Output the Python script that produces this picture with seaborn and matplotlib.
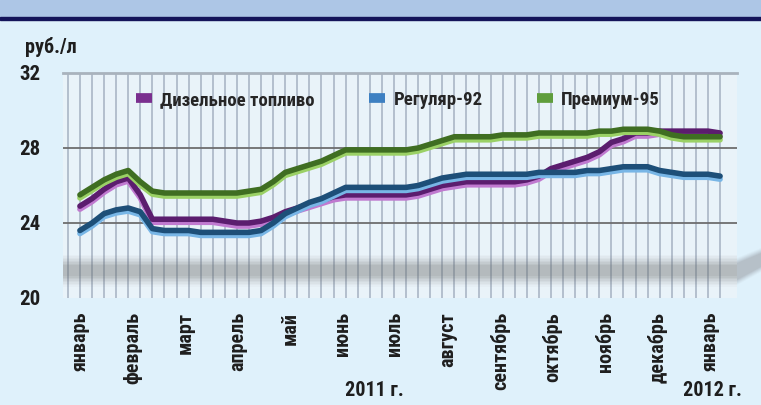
import matplotlib
matplotlib.use("Agg")
import matplotlib.pyplot as plt
import matplotlib.patheffects as pe
from matplotlib import font_manager
import numpy as np
import pandas as pd
import seaborn as sns

# weekly retail prices, Jan 2011 - Jan 2012 (rub/l)
diesel = [24.9, 25.3, 25.8, 26.2, 26.4, 25.5, 24.2, 24.2, 24.2, 24.2,
          24.2, 24.2, 24.1, 24.0, 24.0, 24.1, 24.3, 24.6, 24.8, 25.0,
          25.2, 25.4, 25.5, 25.5, 25.5, 25.5, 25.5, 25.5, 25.6, 25.8,
          26.0, 26.1, 26.2, 26.2, 26.2, 26.2, 26.2, 26.3, 26.5, 26.9,
          27.1, 27.3, 27.5, 27.8, 28.3, 28.5, 28.8, 28.8, 28.9, 28.9,
          28.9, 28.9, 28.9, 28.8]
regular92 = [23.6, 24.0, 24.5, 24.7, 24.8, 24.6, 23.7, 23.6, 23.6, 23.6,
             23.5, 23.5, 23.5, 23.5, 23.5, 23.6, 24.0, 24.5, 24.8, 25.1,
             25.3, 25.6, 25.9, 25.9, 25.9, 25.9, 25.9, 25.9, 26.0, 26.2,
             26.4, 26.5, 26.6, 26.6, 26.6, 26.6, 26.6, 26.6, 26.7, 26.7,
             26.7, 26.7, 26.8, 26.8, 26.9, 27.0, 27.0, 27.0, 26.8, 26.7,
             26.6, 26.6, 26.6, 26.5]
premium95 = [25.5, 25.9, 26.3, 26.6, 26.8, 26.2, 25.7, 25.6, 25.6, 25.6,
             25.6, 25.6, 25.6, 25.6, 25.7, 25.8, 26.2, 26.7, 26.9, 27.1,
             27.3, 27.6, 27.9, 27.9, 27.9, 27.9, 27.9, 27.9, 28.0, 28.2,
             28.4, 28.6, 28.6, 28.6, 28.6, 28.7, 28.7, 28.7, 28.8, 28.8,
             28.8, 28.8, 28.8, 28.9, 28.9, 29.0, 29.0, 29.0, 28.9, 28.7,
             28.6, 28.6, 28.6, 28.6]
months = ["январь", "февраль", "март", "апрель", "май", "июнь", "июль",
          "август", "сентябрь", "октябрь", "ноябрь", "декабрь", "январь"]
series_names = ["Дизельное топливо", "Регуляр-92", "Премиум-95"]

week = np.arange(len(diesel))
df = pd.DataFrame({
    "week": np.tile(week, 3),
    "price": diesel + regular92 + premium95,
    "fuel": np.repeat(series_names, len(week)),
})

sns.set_theme(style="white")
installed = {f.name for f in font_manager.fontManager.ttflist}
fams = [f for f in ["Liberation Sans Narrow", "Roboto Condensed", "DejaVu Sans Condensed", "Roboto"]
        if f in installed] + ["DejaVu Sans"]
plt.rcParams["font.family"] = fams
plt.rcParams["font.weight"] = "bold"

bg = "#dff1fb"
ink = "#1e1e1e"
fig = plt.figure(figsize=(7.61, 4.05), dpi=100, facecolor=bg)
# header band
fig.patches.append(plt.Rectangle((0, 1 - 17 / 405), 1, 17 / 405, transform=fig.transFigure,
                                 color="#adc6e6", zorder=0))
fig.patches.append(plt.Rectangle((0, 1 - 20 / 405), 1, 3 / 405, transform=fig.transFigure,
                                 color="#14145a", zorder=0))
# shadow tail running off to the right
for k, a in enumerate(np.linspace(0.04, 0.1, 6)):
    fig.patches.append(plt.Polygon([(737 / 761, 1 - (258 + k) / 405), (1, 1 - (248 + k) / 405),
                                    (1, 1 - (272 - k) / 405), (737 / 761, 1 - (285 - k) / 405)],
                                   closed=True, transform=fig.transFigure, color="#707070",
                                   alpha=a, lw=0, zorder=0))

ax = fig.add_axes([63 / 761, 1 - 298 / 405, (737 - 63) / 761, (298 - 73) / 405])
ax.set_facecolor("#e9f3f9")

dark = {"Дизельное топливо": "#5b1d6e", "Регуляр-92": "#1d4f78", "Премиум-95": "#3f6e22"}
light = {"Дизельное топливо": "#c07ad0", "Регуляр-92": "#78b6e6", "Премиум-95": "#9bd166"}
legend_col = {"Дизельное топливо": "#7a2f8f", "Регуляр-92": "#3d80c2", "Премиум-95": "#5f9d3c"}

# vertical weekly grid
for w in week:
    ax.axvline(w, color="#b3bfcd", lw=1.4, zorder=1)
ax.axvline(-1, color="#b3bfcd", lw=1.4, zorder=1)
for yv in (24, 28):
    ax.axhline(yv, color="#6e6e6e", lw=1.3, zorder=2)

# soft floor shadow
for k, a in enumerate(np.linspace(0.03, 0.09, 8)):
    ax.axhspan(20.6 + k * 0.08, 22.3 - k * 0.08, color="#6a6a6a", alpha=a, lw=0, zorder=1.5)

sns.lineplot(data=df, x="week", y="price", hue="fuel", palette=dark,
             linewidth=4, ax=ax, legend=False, zorder=4)
for line, name in zip(ax.get_lines()[-3:], series_names):
    line.set_path_effects([pe.SimpleLineShadow(offset=(0, -2.2), shadow_color=light[name],
                                               alpha=1, rho=1),
                           pe.Normal()])
    line.set_solid_joinstyle("round")

ax.set_xlim(-1.4, 54.4)
ax.set_ylim(20, 32)
ax.set_yticks([20, 24, 28, 32])
ax.set_yticklabels(["20", "24", "28", "32"], fontsize=15, fontweight="bold", color=ink)
month_pos = np.arange(13) * 52.5 / 12.08
ax.set_xticks(month_pos)
ax.set_xticklabels(months, rotation=90, fontsize=14.5, fontweight="bold", color=ink, va="top")
ax.tick_params(axis="x", length=0, pad=10)
ax.tick_params(axis="y", length=0, pad=16)
for s in ["left", "right", "bottom"]:
    ax.spines[s].set_visible(False)
ax.spines["top"].set_color("#a9b3bd")
ax.spines["top"].set_linewidth(2)
ax.set_xlabel("")
ax.set_ylabel("")

# legend
handles = [plt.Line2D([], [], color=legend_col[n], lw=7, solid_capstyle="butt") for n in series_names]
fig.legend(handles, series_names, loc="center", bbox_to_anchor=(398 / 761, 1 - 100 / 405),
           ncol=3, frameon=False, columnspacing=2.9, handletextpad=0.45, handlelength=0.85,
           prop={"weight": "bold", "size": 13.5})

fig.text(25 / 761, 1 - 47 / 405, "руб./л", fontsize=14.5, fontweight="bold", color=ink, va="center")
fig.text(345 / 761, 1 - 390 / 405, "2011 г.", fontsize=14.5, fontweight="bold", color=ink, va="center")
fig.text(683 / 761, 1 - 390 / 405, "2012 г.", fontsize=14.5, fontweight="bold", color=ink, va="center")

fig.savefig("out.png", dpi=100, facecolor=bg)
